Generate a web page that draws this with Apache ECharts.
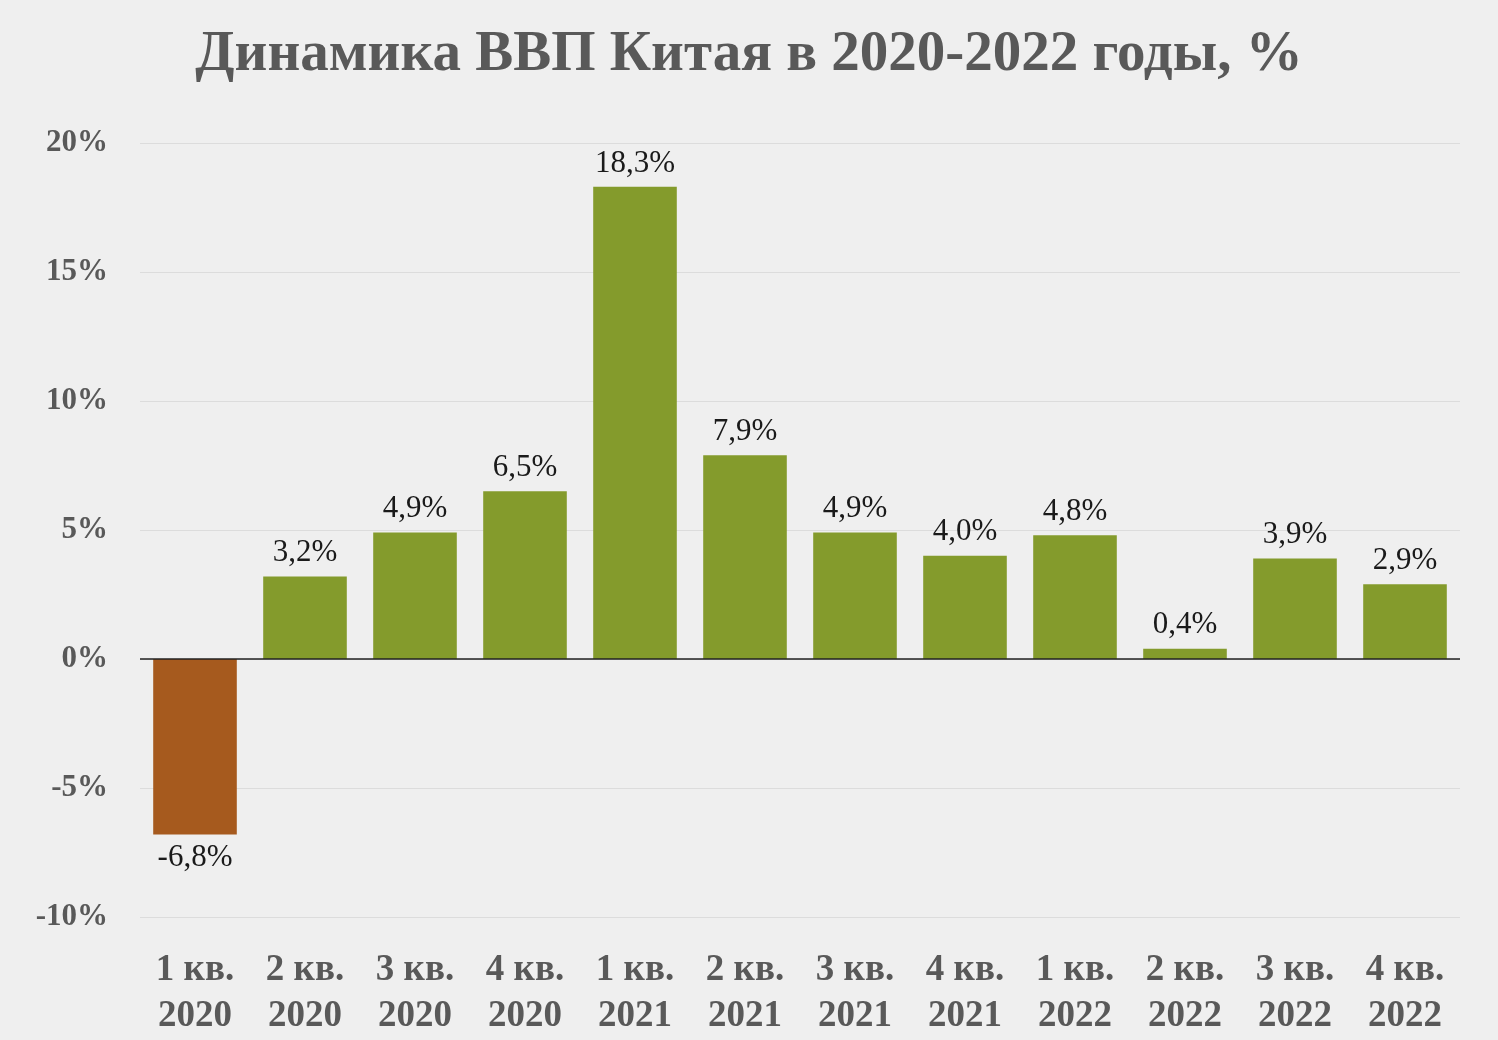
<!DOCTYPE html>
<html lang="ru">
<head>
<meta charset="UTF-8">
<title>Динамика ВВП Китая</title>
<script src="https://cdn.jsdelivr.net/npm/echarts@6/dist/echarts.min.js"></script>
<style>
  html, body { margin: 0; padding: 0; background: #efefef; }
  #chart { width: 1498px; height: 1040px; }
</style>
</head>
<body>
<div id="chart"></div>
<script>
const quarters = ['1 кв.\n2020', '2 кв.\n2020', '3 кв.\n2020', '4 кв.\n2020',
                  '1 кв.\n2021', '2 кв.\n2021', '3 кв.\n2021', '4 кв.\n2021',
                  '1 кв.\n2022', '2 кв.\n2022', '3 кв.\n2022', '4 кв.\n2022'];
const gdpGrowth = [-6.8, 3.2, 4.9, 6.5, 18.3, 7.9, 4.9, 4.0, 4.8, 0.4, 3.9, 2.9];

const chart = echarts.init(document.getElementById('chart'));
const serif = '"Liberation Serif", "DejaVu Serif", serif';

chart.setOption({
  backgroundColor: '#efefef',
  title: {
    text: 'Динамика ВВП Китая в 2020-2022 годы, %',
    left: 'center', top: 22,
    textStyle: { fontFamily: serif, fontSize: 57, fontWeight: 'bold', color: '#595959' }
  },
  grid: { left: 140, right: 38, top: 143, bottom: 123 },
  xAxis: {
    type: 'category',
    data: quarters,
    axisLine: { show: false },
    axisTick: { show: false },
    axisLabel: {
      fontFamily: serif, fontSize: 37, fontWeight: 'bold', color: '#595959',
      lineHeight: 46, margin: 30, interval: 0
    }
  },
  yAxis: {
    type: 'value',
    min: -10, max: 20, interval: 5,
    axisLabel: {
      formatter: '{value}%', fontFamily: serif, fontSize: 31, fontWeight: 'bold',
      color: '#595959', margin: 32
    },
    splitLine: { lineStyle: { color: '#dcdcdc', width: 1 } }
  },
  series: [{
    type: 'bar',
    data: gdpGrowth.map(v => ({
      value: v,
      itemStyle: { color: v < 0 ? '#a65a1e' : '#849b2c' }
    })),
    barCategoryGap: '24%',
    label: {
      show: true,
      position: 'outside',
      distance: 8,
      fontFamily: serif, fontSize: 31, color: '#1a1a1a',
      formatter: p => p.value.toFixed(1).replace('.', ',') + '%'
    },
    markLine: {
      silent: true, symbol: 'none', label: { show: false },
      lineStyle: { color: '#222', width: 1.5, type: 'solid' },
      data: [{ yAxis: 0 }]
    }
  }]
});
</script>
</body>
</html>
